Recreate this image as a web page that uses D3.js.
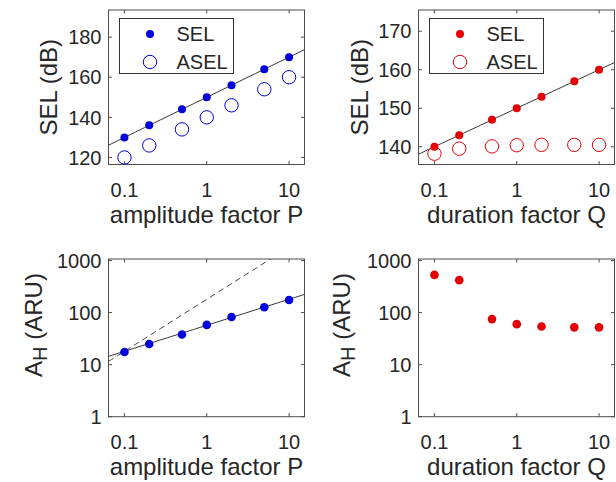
<!DOCTYPE html>
<html>
<head>
<meta charset="utf-8">
<script src="https://cdn.jsdelivr.net/npm/d3@7"></script>
<style>
  html, body { margin: 0; padding: 0; background: #fff; }
  svg { display: block; font-family: "Liberation Sans", Arial, Helvetica, sans-serif; }
</style>
</head>
<body>
<svg id="chart" width="616" height="482"></svg>
<script>
// Scaling factors used in the four experiments
const ampFactor = [0.1, 0.2, 0.5, 1, 2, 5, 10];
const durFactor = [0.1, 0.2, 0.5, 1, 2, 5, 10];

// Sound exposure levels (dB)
const selAmp  = [130, 136, 144, 150, 156, 164, 170];
const aselAmp = [120, 126, 134, 140, 146, 154, 160];
const selDur  = [140, 143, 147, 150, 153, 157, 160];
const aselDur = [138.2, 139.5, 140.1, 140.4, 140.5, 140.5, 140.5];

// Hearing-damage metric A_H (ARU)
const ahAmp = [17.5, 25, 38, 58, 82, 127, 175];
const ahDur = [530, 420, 75, 60, 54, 52, 52];

// Tick values
const xTickVals   = [0.1, 1, 10];
const selAmpTicks = [120, 140, 160, 180];
const selDurTicks = [140, 150, 160, 170];
const ahTicks     = [1, 10, 100, 1000];

// Reference lines: SEL = a + b*log10(x), A_H = c * x^k
const selAmpFit = [150, 20];
const selDurFit = [150, 10];
const ahAmpFit  = [57, 0.5];   // solid
const ahAmpLin  = [180, 1];    // dashed, proportional

const BLUE = "#0000dc", RED = "#e40000";
const TXT = "#262626", AX = "#4d4d4d";

const svg = d3.select("#chart");

const cols = [[108.5, 304.5], [418.5, 614.5]];
const rows = [[10, 164.5], [259, 416.7]];
const xDomain = [0.064, 15.4];

function panel(o) {
  const [x0, x1] = cols[o.col], [y0, y1] = rows[o.row];
  const x = d3.scaleLog().domain(xDomain).range([x0, x1]);
  const y = (o.log ? d3.scaleLog() : d3.scaleLinear()).domain(o.yDomain).range([y1, y0]);
  const g = svg.append("g");
  const clipId = "clip" + o.col + o.row;
  svg.append("clipPath").attr("id", clipId).append("rect")
    .attr("x", x0).attr("y", y0).attr("width", x1 - x0).attr("height", y1 - y0);

  // box
  g.append("rect").attr("x", x0).attr("y", y0).attr("width", x1 - x0).attr("height", y1 - y0)
    .attr("fill", "none").attr("stroke", AX).attr("stroke-width", 1);

  // inward ticks on all four sides
  const tl = 3.5;
  xTickVals.forEach(v => {
    const px = x(v);
    g.append("line").attr("x1", px).attr("x2", px).attr("y1", y1).attr("y2", y1 - tl).attr("stroke", AX);
    g.append("line").attr("x1", px).attr("x2", px).attr("y1", y0).attr("y2", y0 + tl).attr("stroke", AX);
    g.append("text").attr("x", px).attr("y", y1 + 32).attr("text-anchor", "middle")
      .attr("font-size", 20).attr("fill", TXT).text(d3.format("~g")(v));
  });
  o.yTicks.forEach(v => {
    const py = y(v);
    g.append("line").attr("x1", x0).attr("x2", x0 + tl).attr("y1", py).attr("y2", py).attr("stroke", AX);
    g.append("line").attr("x1", x1).attr("x2", x1 - tl).attr("y1", py).attr("y2", py).attr("stroke", AX);
    g.append("text").attr("x", x0 - 7).attr("y", py + 7.2).attr("text-anchor", "end")
      .attr("font-size", 20).attr("fill", TXT).text(v);
  });

  // axis labels
  g.append("text").attr("x", (x0 + x1) / 2).attr("y", y1 + 58).attr("text-anchor", "middle")
    .attr("font-size", 24).attr("fill", TXT).text(o.xLabel);
  const yl = g.append("text")
    .attr("transform", `translate(${x0 + o.yLabelDx},${o.yLabelCy != null ? o.yLabelCy : (y0 + y1) / 2}) rotate(-90)`)
    .attr("text-anchor", "middle").attr("font-size", 24).attr("fill", TXT);
  if (o.sub) {
    yl.append("tspan").text("A");
    yl.append("tspan").attr("font-size", 20).attr("dy", 5).text("H");
    yl.append("tspan").attr("dy", -5).text(" (ARU)");
  } else {
    yl.text(o.yLabel);
  }

  const plot = g.append("g").attr("clip-path", `url(#${clipId})`);
  (o.lines || []).forEach(L => {
    const xs = d3.range(0, 61).map(i => xDomain[0] * Math.pow(xDomain[1] / xDomain[0], i / 60));
    const line = d3.line().x(d => x(d)).y(d => y(L.f(d)));
    plot.append("path").datum(xs).attr("d", line).attr("fill", "none")
      .attr("stroke", L.color).attr("stroke-width", 1)
      .attr("stroke-dasharray", L.dash || null);
  });
  (o.series || []).forEach(s => {
    plot.selectAll(null).data(s.values).enter().append("circle")
      .attr("cx", (d, i) => x(s.xs[i])).attr("cy", d => y(d)).attr("r", s.r)
      .attr("fill", s.filled ? s.color : "none")
      .attr("stroke", s.color).attr("stroke-width", s.filled ? 0 : 1);
  });

  if (o.legend) {
    const lx = x0 + 11, ly = y0 + 8.5;
    g.append("rect").attr("x", lx).attr("y", ly).attr("width", 114).attr("height", 55)
      .attr("fill", "#fff").attr("stroke", "#333").attr("stroke-width", 1);
    o.legend.forEach((s, i) => {
      const cy = ly + 15.5 + i * 28;
      g.append("circle").attr("cx", lx + 30.5).attr("cy", cy).attr("r", s.r)
        .attr("fill", s.filled ? s.color : "none").attr("stroke", s.color)
        .attr("stroke-width", s.filled ? 0 : 1);
      g.append("text").attr("x", lx + 57).attr("y", cy + 7.2).attr("font-size", 20)
        .attr("fill", TXT).text(s.name);
    });
  }
}

const selSeriesA = { name: "SEL", xs: ampFactor, values: selAmp, color: BLUE, filled: true, r: 4 };
const aselSeriesA = { name: "ASEL", xs: ampFactor, values: aselAmp, color: BLUE, filled: false, r: 6.7 };
const selSeriesD = { name: "SEL", xs: durFactor, values: selDur, color: RED, filled: true, r: 4 };
const aselSeriesD = { name: "ASEL", xs: durFactor, values: aselDur, color: RED, filled: false, r: 6.7 };

panel({
  col: 0, row: 0, yDomain: [116.5, 193.5], yTicks: selAmpTicks,
  xLabel: "amplitude factor P", yLabel: "SEL (dB)", yLabelDx: -52,
  lines: [{ f: v => selAmpFit[0] + selAmpFit[1] * Math.log10(v), color: "#333" }],
  series: [selSeriesA, aselSeriesA], legend: [selSeriesA, aselSeriesA]
});
panel({
  col: 1, row: 0, yDomain: [135.4, 175.5], yTicks: selDurTicks,
  xLabel: "duration factor Q", yLabel: "SEL (dB)", yLabelDx: -51,
  lines: [{ f: v => selDurFit[0] + selDurFit[1] * Math.log10(v), color: "#333" }],
  series: [selSeriesD, aselSeriesD], legend: [selSeriesD, aselSeriesD]
});
panel({
  col: 0, row: 1, log: true, yDomain: [1, 1070], yTicks: ahTicks,
  xLabel: "amplitude factor P", sub: true, yLabelDx: -66.5, yLabelCy: 325,
  lines: [
    { f: v => ahAmpFit[0] * Math.pow(v, ahAmpFit[1]), color: "#333" },
    { f: v => ahAmpLin[0] * Math.pow(v, ahAmpLin[1]), color: "#444", dash: "6,4" }
  ],
  series: [{ xs: ampFactor, values: ahAmp, color: BLUE, filled: true, r: 4.3 }]
});
panel({
  col: 1, row: 1, log: true, yDomain: [1, 1070], yTicks: ahTicks,
  xLabel: "duration factor Q", sub: true, yLabelDx: -68.5, yLabelCy: 325,
  series: [{ xs: durFactor, values: ahDur, color: RED, filled: true, r: 4.3 }]
});
</script>
</body>
</html>
